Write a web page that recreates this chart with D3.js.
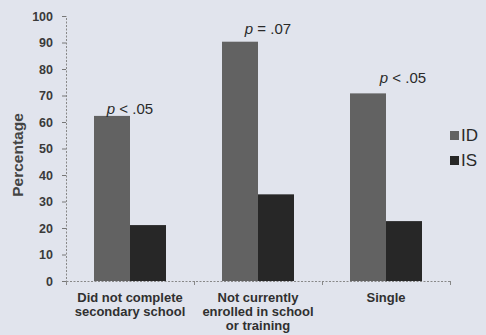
<!DOCTYPE html>
<html><head><meta charset="utf-8">
<script src="https://cdn.jsdelivr.net/npm/d3@7"></script>
<style>
html,body{margin:0;padding:0;background:#e1e4ed;}
svg{display:block;font-family:"Liberation Sans",Arial,sans-serif;}
</style></head><body>
<svg id="c" width="486" height="335"></svg>
<script>
const categories = [["Did not complete","secondary school"],["Not currently","enrolled in school","or training"],["Single"]];
const seriesNames = ["ID","IS"];
const idValues = [62.3, 90.3, 70.8];
const isValues = [21.1, 32.7, 22.6];
const pLabels = [["p"," < .05"],["p"," = .07"],["p"," < .05"]];
const yTicks = [0,10,20,30,40,50,60,70,80,90,100];

const colors = {ID:"#626262", IS:"#272727"};
const svg = d3.select("#c");
const m = {l:66};
const x0 = d3.scaleBand().domain(d3.range(categories.length)).range([m.l, 450]);
const x1 = d3.scaleBand().domain(seriesNames).range([x0.bandwidth()/2-36, x0.bandwidth()/2+36]);
const y = d3.scaleLinear().domain([0,100]).range([281,16]);

// y axis
const ya = svg.append("g").attr("transform",`translate(${m.l},0)`)
  .call(d3.axisLeft(y).tickValues(yTicks).tickSize(4).tickPadding(9));
ya.select(".domain").attr("stroke","#888").attr("stroke-dasharray","2,1.5");
ya.selectAll(".tick line").attr("stroke","#777");
ya.selectAll("text").attr("font-size",12.5).attr("font-weight","bold").attr("fill","#3a3a3a");

// x axis
const xa = svg.append("g").attr("transform",`translate(0,${y(0)})`)
  .call(d3.axisBottom(d3.scaleLinear().domain([0,3]).range([m.l,450])).tickValues([0,1,2,3]).tickSize(4).tickFormat(""));
xa.select(".domain").attr("stroke","#888").attr("stroke-dasharray","2,1.5");
xa.selectAll(".tick line").attr("stroke","#888");

// bars
const data = categories.map((c,i)=>({i, vals:[{k:"ID",v:idValues[i]},{k:"IS",v:isValues[i]}]}));
const g = svg.selectAll(".grp").data(data).join("g").attr("transform",d=>`translate(${x0(d.i)},0)`);
g.selectAll("rect").data(d=>d.vals).join("rect")
  .attr("x",d=>x1(d.k)).attr("width",x1.bandwidth())
  .attr("y",d=>y(d.v)).attr("height",d=>y(0)-y(d.v))
  .attr("fill",d=>colors[d.k]);

// p labels
const pOff = [0, 10, 17];
const pDy = [2, 8, 10];
pLabels.forEach((p,i)=>{
  const t = svg.append("text")
    .attr("x", x0(i)+x0.bandwidth()/2 + pOff[i])
    .attr("y", y(idValues[i]) - pDy[i])
    .attr("text-anchor","middle").attr("font-size",15).attr("fill","#2a2a2a");
  t.append("tspan").attr("font-style","italic").text(p[0]);
  t.append("tspan").text(p[1]);
});

// category labels
categories.forEach((lines,i)=>{
  const t = svg.append("text").attr("text-anchor","middle")
    .attr("font-size",13).attr("font-weight","bold").attr("fill","#303030");
  lines.forEach((l,j)=>{
    t.append("tspan").attr("x", x0(i)+x0.bandwidth()/2).attr("y", 302 + j*14).text(l);
  });
});

// y title
svg.append("text").attr("transform","translate(23,155) rotate(-90)")
  .attr("text-anchor","middle").attr("font-size",15.5).attr("font-weight","bold").attr("fill","#444")
  .text("Percentage");

// legend
seriesNames.forEach((s,i)=>{
  svg.append("rect").attr("x",450).attr("y",131+i*25).attr("width",9).attr("height",9).attr("fill",colors[s]);
  svg.append("text").attr("x",461).attr("y",141+i*25).attr("font-size",17).attr("fill","#2a2a2a").text(s);
});
</script>
</body></html>
